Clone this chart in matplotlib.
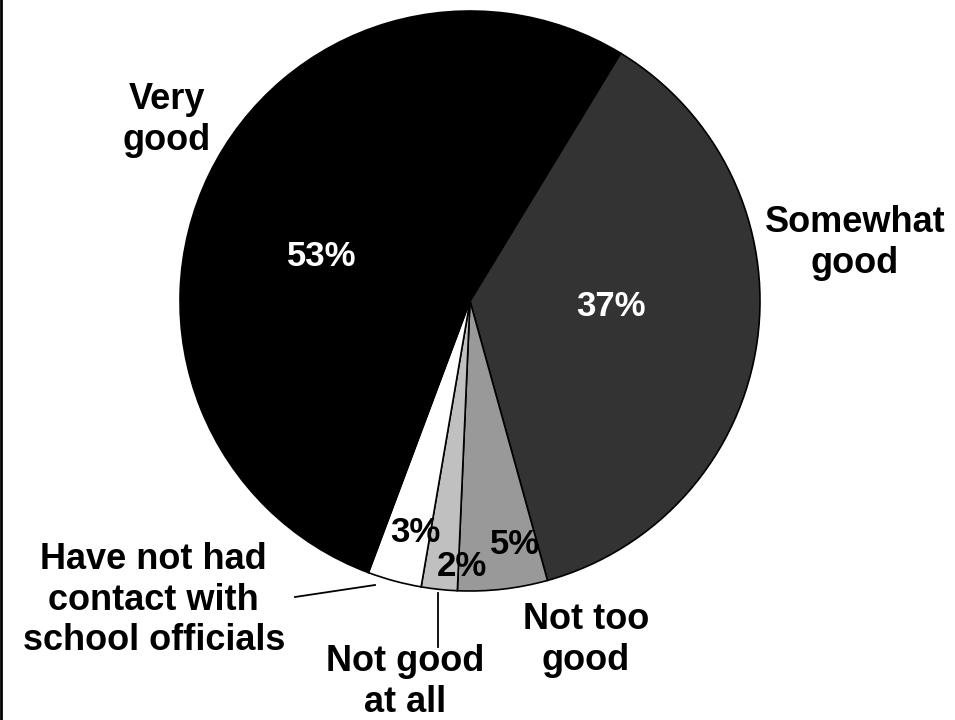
import matplotlib
matplotlib.use("Agg")
import matplotlib.pyplot as plt
from matplotlib.lines import Line2D

plt.rcParams['font.family'] = ['Liberation Sans', 'DejaVu Sans']

# data, clockwise from the top-right boundary
labels = ["Somewhat\ngood", "Not too\ngood", "Not good\nat all",
          "Have not had\ncontact with\nschool officials", "Very\ngood"]
values = [37, 5, 2, 3, 53]
colors = ["#333333", "#999999", "#c0c0c0", "#ffffff", "#000000"]
pct_colors = ["white", "black", "black", "black", "white"]

# label positions in pixels (x, y from top)
pct_pos = [(611, 306), (515, 545), (462, 567), (415, 533), (322, 257)]
lab_pos = [(855, 243), (586, 640), (405, 682), (285, 600), (167, 120)]
lab_ha = ["center", "center", "center", "right", "center"]

W, H = 955, 720
fig = plt.figure(figsize=(W / 100, H / 100), dpi=100)
ax = fig.add_axes([0, 0, 1, 1])
ax.set_xlim(0, W)
ax.set_ylim(0, H)
ax.set_aspect("equal")
ax.axis("off")

ax.pie(values, colors=colors, startangle=58.7, counterclock=False,
       center=(470, H - 301), radius=290,
       wedgeprops=dict(edgecolor="black", linewidth=1.2))
ax.set_xlim(0, W)
ax.set_ylim(0, H)

for v, (x, y), c in zip(values, pct_pos, pct_colors):
    ax.text(x, H - y, f"{v}%", color=c, fontsize=25, fontweight="bold",
            ha="center", va="center")

for lab, (x, y), ha in zip(labels, lab_pos, lab_ha):
    ax.text(x, H - y, lab, fontsize=26, fontweight="bold", ha=ha,
            va="center", multialignment="center", linespacing=1.22)

# leader lines
ax.plot([295, 375], [H - 597, H - 585], color="black", lw=1.3)
ax.plot([438, 438], [H - 593, H - 647], color="black", lw=1.3)

# left frame line
fig.add_artist(Line2D([0.0015, 0.0015], [0, 1], transform=fig.transFigure,
                      color="black", lw=2))

fig.savefig("out.png", dpi=100)
